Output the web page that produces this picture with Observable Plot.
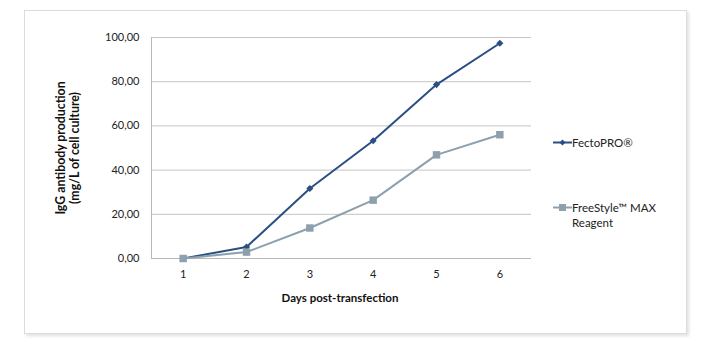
<!DOCTYPE html>
<html><head><meta charset="utf-8">
<script src="https://cdn.jsdelivr.net/npm/d3@7"></script>
<script src="https://cdn.jsdelivr.net/npm/@observablehq/plot@0.6"></script>
<style>
body{margin:0;background:#fff;font-family:Lato,"Open Sans",sans-serif;}
#wrap{position:relative;width:709px;height:345px;overflow:hidden;}
#frame{position:absolute;left:24px;top:10px;width:661px;height:322px;border:1px solid #dcdcdc;box-shadow:2px 2px 3px rgba(0,0,0,0.12);background:#fff;}
#chart{position:absolute;left:0;top:0;}
.ttl{position:absolute;font-weight:bold;font-size:11.5px;color:#111;white-space:nowrap;}
#ytitle{left:67px;top:148px;transform:translate(-50%,-50%) rotate(-90deg);text-align:center;line-height:13.5px;font-size:12.3px;}
#xtitle{left:340px;top:297px;transform:translate(-50%,-50%);}
.leg{position:absolute;font-size:11.5px;color:#222;line-height:15px;display:flex;align-items:flex-start;}
.leg svg{flex:none;margin-top:0px;}
</style></head>
<body>
<div id="wrap">
  <div id="frame"></div>
  <div id="chart"></div>
  <div id="ytitle" class="ttl">IgG antibody production<br>(mg/L of cell culture)</div>
  <div id="xtitle" class="ttl">Days post-transfection</div>
  <div class="leg" style="left:553px;top:135px;"><svg width="19" height="15"><line x1="0" y1="7.5" x2="19" y2="7.5" stroke="#2b4f82" stroke-width="2"/><path d="M9.5,4.5 L12.5,7.5 L9.5,10.5 L6.5,7.5Z" fill="#2b4f82"/></svg><span>FectoPRO®</span></div>
  <div class="leg" style="left:553px;top:200px;"><svg width="19" height="15"><line x1="0" y1="7.5" x2="19" y2="7.5" stroke="#8ca0ad" stroke-width="2"/><rect x="6" y="4" width="7" height="7" fill="#8ca0ad"/></svg><span>FreeStyle™ MAX<br>Reagent</span></div>
</div>
<script>
const days = [1, 2, 3, 4, 5, 6];
const fectoPRO = [0, 5.2, 31.7, 53.3, 78.7, 97.4];
const freeStyle = [0, 2.9, 13.8, 26.4, 46.9, 56.0];
const yTicks = [0, 20, 40, 60, 80, 100];
const seriesNames = ["FectoPRO®", "FreeStyle™ MAX Reagent"];
const colors = ["#2b4f82", "#8ca0ad"];

const rowsA = days.map((d, i) => ({day: d, value: fectoPRO[i]}));
const rowsB = days.map((d, i) => ({day: d, value: freeStyle[i]}));

const chart = Plot.plot({
  width: 709, height: 345,
  marginLeft: 151, marginRight: 178, marginTop: 37, marginBottom: 87,
  style: {fontFamily: "Lato, 'Open Sans', sans-serif", fontSize: "11px", color: "#222", background: "transparent"},
  x: {domain: [0.5, 6.5]},
  y: {domain: [0, 100]},
  marks: [
    Plot.gridY(yTicks, {stroke: "#c4c4c4", strokeOpacity: 1}),
    Plot.ruleX([0.5], {stroke: "#b8b8b8"}),
    Plot.ruleY([0], {stroke: "#b8b8b8"}),
    Plot.axisY(yTicks, {tickSize: 0, tickPadding: 12, label: null, tickFormat: d => d.toFixed(2).replace(".", ","), fill: "#222"}),
    Plot.axisX(days, {tickSize: 0, tickPadding: 12, label: null, tickFormat: d => String(d), fill: "#222"}),
    Plot.line(rowsA, {x: "day", y: "value", stroke: colors[0], strokeWidth: 2}),
    Plot.dot(rowsA, {x: "day", y: "value", symbol: "diamond2", r: 3.2, fill: colors[0], stroke: "none"}),
    Plot.line(rowsB, {x: "day", y: "value", stroke: colors[1], strokeWidth: 2}),
    Plot.dot(rowsB, {x: "day", y: "value", symbol: "square", r: 4.2, fill: colors[1], stroke: "none"})
  ]
});
document.getElementById("chart").appendChild(chart);
</script>
</body></html>
